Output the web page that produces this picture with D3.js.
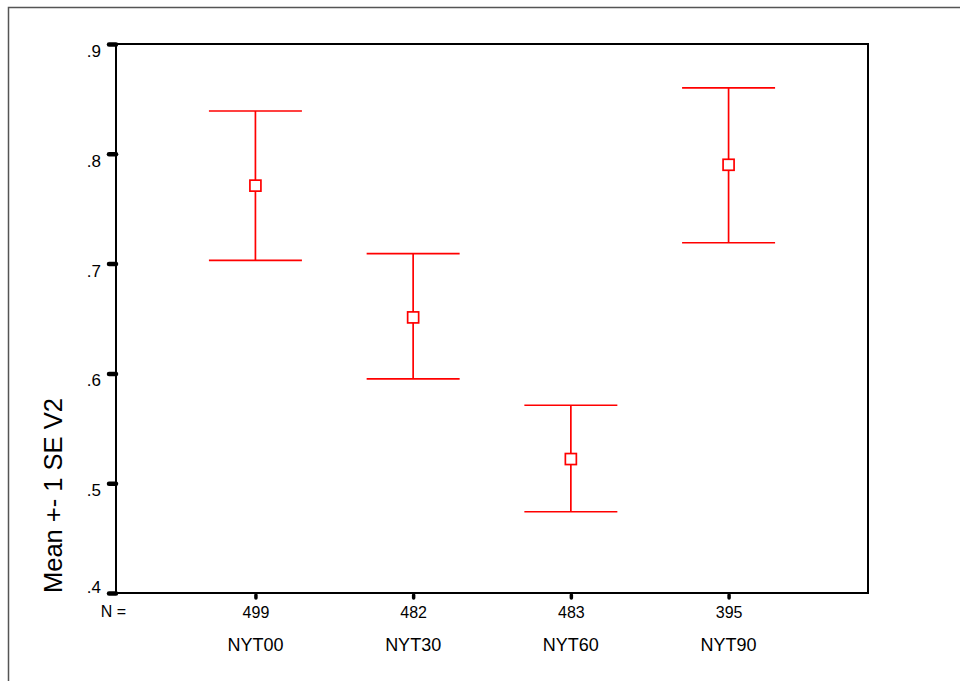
<!DOCTYPE html>
<html>
<head>
<meta charset="utf-8">
<script src="https://cdn.jsdelivr.net/npm/d3@7"></script>
<style>
  html, body { margin: 0; padding: 0; background: #fff; }
  svg { display: block; font-family: Arial, 'Liberation Sans', sans-serif; }
</style>
</head>
<body>
<div id="chart"></div>
<script>
const groups = ['NYT00', 'NYT30', 'NYT60', 'NYT90'];
const counts = [499, 482, 483, 395];
const means = [0.771, 0.651, 0.522, 0.790];
const upper = [0.839, 0.709, 0.571, 0.860];
const lower = [0.703, 0.595, 0.474, 0.719];
const yTicks = [0.4, 0.5, 0.6, 0.7, 0.8, 0.9];

const width = 960;
const height = 681;
const frame = { left: 116, right: 868, top: 44, bottom: 593 };

const rows = groups.map((g, i) => ({ group: g, n: counts[i], mean: means[i], hi: upper[i], lo: lower[i] }));

const svg = d3.select('#chart').append('svg')
  .attr('width', width)
  .attr('height', height);

// outer border (only top and left visible)
svg.append('path')
  .attr('d', `M8.5,${height}V7.5H${width}`)
  .attr('fill', 'none')
  .attr('stroke', '#555')
  .attr('stroke-width', 1.5);

const x = d3.scalePoint().domain(groups).range([frame.left, frame.right]).padding(0.884);
const y = d3.scaleLinear().domain([0.4, 0.9]).range([frame.bottom, frame.top]);

// plot frame
svg.append('rect')
  .attr('x', frame.left)
  .attr('y', frame.top)
  .attr('width', frame.right - frame.left)
  .attr('height', frame.bottom - frame.top)
  .attr('fill', 'none')
  .attr('stroke', '#000')
  .attr('stroke-width', 2);

const yAxis = svg.append('g')
  .attr('transform', `translate(${frame.left},0)`)
  .call(d3.axisLeft(y).tickValues(yTicks).tickSize(7).tickPadding(8)
    .tickFormat((d) => d3.format('.1f')(d).replace(/^0/, '')));
yAxis.attr('font-family', null).attr('font-size', 17);
yAxis.select('.domain').remove();
yAxis.selectAll('.tick line').attr('stroke', '#000').attr('stroke-width', 4.5).attr('stroke-linecap', 'round');
// labels hang below their tick, except the bottom one which sits on it
yAxis.selectAll('.tick text')
  .attr('dy', (d) => (d === yTicks[0] ? '-0.02em' : '0.74em'))
  .attr('fill', '#000');

const xAxis = svg.append('g')
  .attr('transform', `translate(0,${frame.bottom})`)
  .call(d3.axisBottom(x).tickSize(5).tickPadding(9)
    .tickFormat((d, i) => counts[i]));
xAxis.attr('font-family', null).attr('font-size', 16);
xAxis.select('.domain').remove();
xAxis.selectAll('.tick line').attr('stroke', '#000').attr('stroke-width', 3.5).attr('y1', 2).attr('stroke-linecap', 'round');
xAxis.selectAll('.tick text')
  .attr('dy', '0.68em')
  .attr('fill', '#000');

svg.append('text')
  .attr('x', 126)
  .attr('y', 617)
  .attr('text-anchor', 'end')
  .attr('font-size', 16)
  .text('N =');

svg.append('g').selectAll('text')
  .data(rows)
  .join('text')
  .attr('x', (d) => x(d.group))
  .attr('y', 651)
  .attr('text-anchor', 'middle')
  .attr('font-size', 18)
  .text((d) => d.group);

svg.append('text')
  .attr('transform', `translate(62,${frame.bottom}) rotate(-90)`)
  .attr('font-size', 25.5)
  .text('Mean +- 1 SE V2');

// error bars
const bars = svg.append('g').attr('stroke', '#ff0000').attr('stroke-width', 1.7).attr('fill', 'none');
const capHalf = 46.5;
const box = 11;

const bar = bars.selectAll('g').data(rows).join('g');
bar.append('line')
  .attr('x1', (d) => x(d.group)).attr('x2', (d) => x(d.group))
  .attr('y1', (d) => y(d.hi)).attr('y2', (d) => y(d.mean) - box / 2);
bar.append('line')
  .attr('x1', (d) => x(d.group)).attr('x2', (d) => x(d.group))
  .attr('y1', (d) => y(d.mean) + box / 2).attr('y2', (d) => y(d.lo));
bar.append('line')
  .attr('x1', (d) => x(d.group) - capHalf).attr('x2', (d) => x(d.group) + capHalf)
  .attr('y1', (d) => y(d.hi)).attr('y2', (d) => y(d.hi));
bar.append('line')
  .attr('x1', (d) => x(d.group) - capHalf).attr('x2', (d) => x(d.group) + capHalf)
  .attr('y1', (d) => y(d.lo)).attr('y2', (d) => y(d.lo));
bar.append('rect')
  .attr('x', (d) => x(d.group) - box / 2)
  .attr('y', (d) => y(d.mean) - box / 2)
  .attr('width', box)
  .attr('height', box);
</script>
</body>
</html>
